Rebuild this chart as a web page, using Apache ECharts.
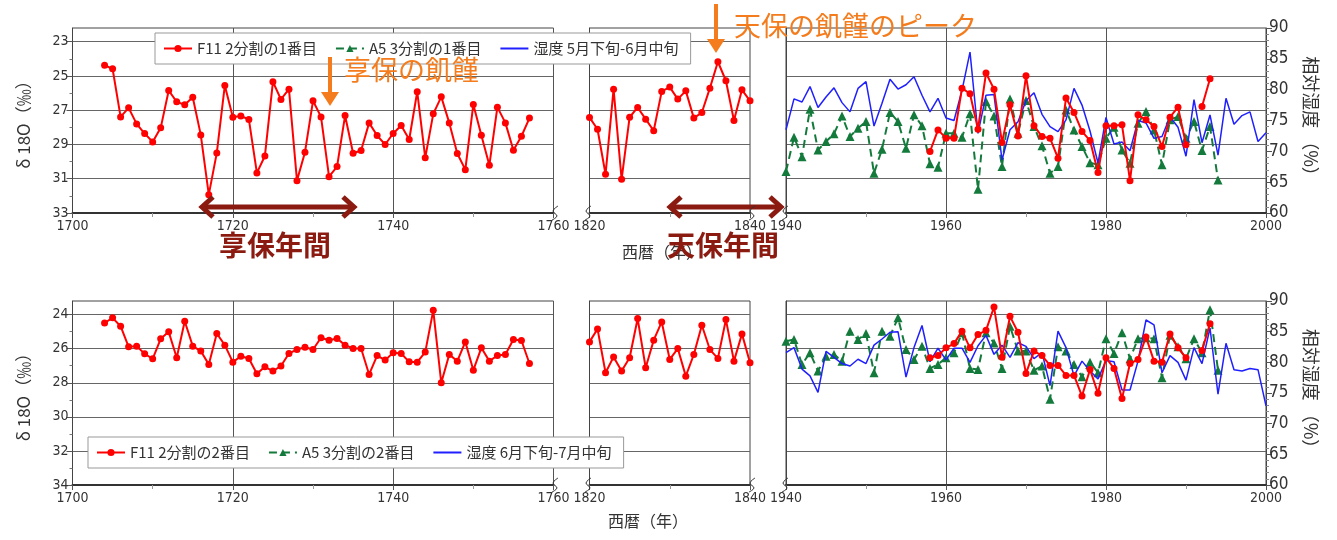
<!DOCTYPE html>
<html><head><meta charset="utf-8">
<script src="https://cdn.jsdelivr.net/npm/echarts@6/dist/echarts.min.js"></script>
<style>html,body{margin:0;padding:0;background:#fff}#c{width:1337px;height:540px}</style>
</head><body><div id="c"></div>
<script>
// ---------------- data ----------------
const yearsEarly = [1704,1705,1706,1707,1708,1709,1710,1711,1712,1713,1714,1715,1716,1717,1718,1719,1720,1721,1722,1723,1724,1725,1726,1727,1728,1729,1730,1731,1732,1733,1734,1735,1736,1737,1738,1739,1740,1741,1742,1743,1744,1745,1746,1747,1748,1749,1750,1751,1752,1753,1754,1755,1756,1757];
const yearsMid = [1820,1821,1822,1823,1824,1825,1826,1827,1828,1829,1830,1831,1832,1833,1834,1835,1836,1837,1838,1839,1840];
const yearsModern = [1940,1941,1942,1943,1944,1945,1946,1947,1948,1949,1950,1951,1952,1953,1954,1955,1956,1957,1958,1959,1960,1961,1962,1963,1964,1965,1966,1967,1968,1969,1970,1971,1972,1973,1974,1975,1976,1977,1978,1979,1980,1981,1982,1983,1984,1985,1986,1987,1988,1989,1990,1991,1992,1993,1994,1995,1996,1997,1998,1999,2000];
const yearsF11Modern = [1958,1959,1960,1961,1962,1963,1964,1965,1966,1967,1968,1969,1970,1971,1972,1973,1974,1975,1976,1977,1978,1979,1980,1981,1982,1983,1984,1985,1986,1987,1988,1989,1990,1991,1992,1993];
const yearsA5 = [1940,1941,1942,1943,1944,1945,1946,1947,1948,1949,1950,1951,1952,1953,1954,1955,1956,1957,1958,1959,1960,1961,1962,1963,1964,1965,1966,1967,1968,1969,1970,1971,1972,1973,1974,1975,1976,1977,1978,1979,1980,1981,1982,1983,1984,1985,1986,1987,1988,1989,1990,1991,1992,1993,1994];

// top panel: F11 first half, A5 first third, humidity late May - mid June
const f11FirstEarly = [24.38,24.58,27.39,26.86,27.80,28.36,28.85,28.03,25.85,26.51,26.68,26.24,28.44,31.93,29.49,25.55,27.41,27.33,27.54,30.66,29.67,25.34,26.37,25.77,31.11,29.45,26.45,27.39,30.88,30.29,27.31,29.51,29.35,27.74,28.48,29.00,28.36,27.89,28.71,25.92,29.78,27.21,26.22,27.74,29.53,30.47,26.66,28.46,30.21,26.82,27.74,29.34,28.52,27.46];
const f11FirstMid = [27.42,28.11,30.74,25.77,31.03,27.41,26.84,27.52,28.20,25.90,25.65,26.35,25.87,27.46,27.13,25.71,24.17,25.28,27.60,25.81,26.45];
const f11FirstModern = [29.41,28.15,28.63,28.63,25.71,26.04,28.11,24.83,25.77,28.89,26.68,28.50,24.99,27.91,28.54,28.63,29.80,26.29,27.13,28.24,28.77,30.64,27.91,27.91,27.85,31.11,27.27,27.56,27.95,29.12,27.41,26.82,29.02,null,26.78,25.16];
const a5First = [30.58,28.58,29.71,26.94,29.32,28.83,28.38,27.33,28.54,28.05,27.66,30.68,29.28,27.13,27.66,29.22,27.27,27.91,30.13,30.33,28.34,28.34,28.58,27.21,31.62,26.49,27.33,30.29,26.35,28.34,26.43,27.95,29.08,30.68,30.29,26.98,28.15,29.12,30.06,30.19,28.63,27.99,29.32,30.10,27.76,27.07,28.15,30.19,27.56,27.37,28.63,27.66,29.35,27.95,31.07];
const humMayJun = [73.5,78.5,78.0,80.5,77.1,78.8,80.3,77.9,76.4,80.2,81.3,74.1,77.8,81.7,80.1,80.8,82.1,79.1,76.4,78.6,75.4,75.0,79.9,86.1,72.9,79.1,79.2,68.6,73.5,74.8,78.2,79.5,76.0,74.0,73.2,75.1,80.2,77.5,73.3,68.1,75.5,71.2,71.5,70.1,75.0,74.6,72.1,72.4,75.6,73.9,69.2,78.4,71.4,75.9,69.4,78.6,74.4,75.8,76.4,71.6,73.0];

// bottom panel: F11 second half, A5 second third, humidity late June - mid July
const f11SecondEarly = [24.49,24.19,24.68,25.89,25.85,26.30,26.59,25.42,25.01,26.53,24.39,25.85,26.14,26.92,25.11,25.79,26.79,26.44,26.57,27.47,27.06,27.31,27.02,26.28,26.05,25.91,26.05,25.36,25.50,25.40,25.79,25.99,25.99,27.51,26.40,26.67,26.24,26.28,26.77,26.79,26.20,23.75,28.00,26.34,26.73,25.60,27.26,25.95,26.73,26.40,26.34,25.46,25.52,26.87];
const f11SecondMid = [25.60,24.84,27.41,26.48,27.31,26.53,24.23,27.12,25.50,24.43,26.63,25.99,27.61,26.34,24.62,26.05,26.57,24.29,26.73,25.13,26.83];
const f11SecondModern = [26.53,26.40,25.95,25.70,24.97,25.95,25.17,24.92,23.55,26.50,24.10,25.03,27.45,26.14,26.40,26.98,26.98,27.57,27.57,28.78,27.22,28.62,26.53,27.16,28.93,26.87,26.63,25.31,26.73,26.79,25.13,25.95,26.53,null,26.11,24.53];
const a5Second = [25.56,25.46,26.92,26.24,27.31,26.44,26.34,26.73,24.97,25.46,25.11,27.41,24.97,25.27,24.19,26.05,26.63,25.85,27.16,26.92,26.53,26.24,25.07,27.16,27.22,25.07,25.66,27.16,24.68,26.14,26.14,27.27,27.02,28.97,25.89,26.14,26.92,27.65,26.79,27.41,25.42,26.28,25.07,26.59,25.42,25.36,25.42,27.70,25.21,25.89,26.59,25.42,26.24,23.71,27.26];
const humJunJul = [81.6,82.4,78.9,77.8,75.1,81.8,80.8,79.8,79.4,80.5,79.8,82.8,83.8,84.9,85.0,77.6,82.4,86.0,80.1,82.3,80.4,82.3,82.3,80.0,82.7,84.4,81.3,82.8,80.8,83.2,82.6,80.6,81.6,76.2,85.1,82.4,77.8,80.2,78.6,77.3,80.3,80.1,75.5,75.5,80.2,86.9,86.1,78.3,81.1,80.0,77.1,82.4,79.8,85.6,74.8,83.1,78.8,78.6,79.0,78.8,72.9];

const topLeftTicks = [23,25,27,29,31,33];
const topLeftMinor = [24,26,28,30,32];
const botLeftTicks = [24,26,28,30,32,34];
const botLeftMinor = [25,27,29,31,33];

const NAMES_TOP = ['F11 2分割の1番目','A5 3分割の1番目','湿度 5月下旬-6月中旬'];
const NAMES_BOT = ['F11 2分割の2番目','A5 3分割の2番目','湿度 6月下旬-7月中旬'];

// ---------------- styling ----------------
const RED = '#ff0000', GREEN = '#137a3c', BLUE = '#1f1fff';
const ORANGE = '#f47c1c', DARKRED = '#8b1a10';
const NUMFONT = "'Liberation Sans Narrow','DejaVu Sans Condensed','Liberation Sans',sans-serif";
const JPFONT = "'Noto Sans CJK JP','Noto Sans',sans-serif";
const zip = (xs, ys) => xs.map((x, i) => [x, ys[i]]);

const TOP = 28, TOPH = 185, BOT = 301, BOTH = 184;
const cols = [{left: 72.5, width: 481, min: 1700, max: 1760, split: true},
              {left: 589.5, width: 160.5, min: 1820, max: 1840, split: false},
              {left: 786, width: 480, min: 1940, max: 2000, split: true}];

const grids = [], xAxes = [];
[[TOP, TOPH], [BOT, BOTH]].forEach(([t, h]) => {
  cols.forEach(c => {
    grids.push({left: c.left, top: t, width: c.width, height: h, show: true, borderColor: '#444', borderWidth: 1, containLabel: false});
    xAxes.push({
      type: 'value', gridIndex: grids.length - 1, min: c.min, max: c.max, interval: 20,
      axisLine: {show: true, onZero: false, lineStyle: {color: '#333', width: 2}},
      axisTick: {show: true, length: 5, lineStyle: {color: '#555'}},
      minorTick: {show: true, splitNumber: 2, length: 4, lineStyle: {color: '#999'}},
      splitLine: {show: c.split, lineStyle: {color: '#555', width: 1}},
      axisLabel: {color: '#333', fontSize: 14, fontFamily: NUMFONT, margin: 6, showMinLabel: true, showMaxLabel: true,
        formatter: v => String(v)}
    });
  });
});

function leftAxis(grid, min, max, ticks, labels, nameText) {
  return {
    type: 'value', gridIndex: grid, inverse: true, min: min, max: max, position: 'left',
    axisLine: {show: true, lineStyle: {color: '#444', width: 1}},
    axisTick: {show: labels, length: 6, customValues: ticks, lineStyle: {color: '#555'}},
    axisLabel: {show: labels, customValues: ticks, color: '#333', fontSize: 14, fontFamily: NUMFONT, margin: 4},
    splitLine: {show: true, lineStyle: {color: '#666', width: 1}},
    name: nameText || '', nameLocation: 'middle', nameGap: 40, nameRotate: 90,
    nameTextStyle: {fontSize: 17, color: '#333', fontFamily: JPFONT}
  };
}
function minorAxis(grid, min, max, ticks) {
  return {
    type: 'value', gridIndex: grid, inverse: true, min: min, max: max, position: 'left',
    axisLine: {show: false}, axisLabel: {show: false, customValues: ticks},
    axisTick: {show: true, length: 3, customValues: ticks, lineStyle: {color: '#777'}},
    splitLine: {show: false}
  };
}
function rightAxis(grid) {
  return {
    type: 'value', gridIndex: grid, min: 60, max: 90, interval: 5, position: 'right',
    axisLine: {show: true, lineStyle: {color: '#444', width: 1}},
    axisTick: {show: true, length: 6, lineStyle: {color: '#555'}},
    minorTick: {show: true, splitNumber: 5, length: 3, lineStyle: {color: '#888'}},
    splitLine: {show: false},
    axisLabel: {color: '#333', fontSize: 17, fontFamily: NUMFONT, margin: 3},
    name: '相対湿度 （%）', nameLocation: 'middle', nameGap: 36, nameRotate: -90,
    nameTextStyle: {fontSize: 18, color: '#333', fontFamily: JPFONT}
  };
}

const yAxes = [
  leftAxis(0, 22.2, 33, topLeftTicks, true, 'δ 18O（‰）'), // 0
  minorAxis(0, 22.2, 33, topLeftMinor),                   // 1
  leftAxis(1, 22.2, 33, topLeftTicks, false),             // 2
  leftAxis(2, 22.2, 33, topLeftTicks, false),             // 3
  rightAxis(2),                                           // 4
  leftAxis(3, 23.2, 34, botLeftTicks, true, 'δ 18O（‰）'), // 5
  minorAxis(3, 23.2, 34, botLeftMinor),                   // 6
  leftAxis(4, 23.2, 34, botLeftTicks, false),             // 7
  leftAxis(5, 23.2, 34, botLeftTicks, false),             // 8
  rightAxis(5)                                            // 9
];

function redS(name, data, xi, yi) {
  return {type: 'line', name, data, xAxisIndex: xi, yAxisIndex: yi, symbol: 'circle', symbolSize: 7,
    connectNulls: false, clip: false, z: 5, lineStyle: {color: RED, width: 2}, itemStyle: {color: RED}};
}
function greenS(name, data, xi, yi) {
  return {type: 'line', name, data, xAxisIndex: xi, yAxisIndex: yi, symbol: 'triangle', symbolSize: 9,
    clip: false, z: 3, lineStyle: {color: GREEN, width: 2, type: [8, 5]}, itemStyle: {color: GREEN}};
}
function blueS(name, data, xi, yi) {
  return {type: 'line', name, data, xAxisIndex: xi, yAxisIndex: yi, symbol: 'none',
    clip: false, z: 4, lineStyle: {color: BLUE, width: 1.5}, itemStyle: {color: BLUE}};
}

const series = [
  greenS(NAMES_TOP[1], zip(yearsA5, a5First), 2, 3),
  blueS(NAMES_TOP[2], zip(yearsModern, humMayJun), 2, 4),
  redS(NAMES_TOP[0], zip(yearsEarly, f11FirstEarly), 0, 0),
  redS(NAMES_TOP[0], zip(yearsMid, f11FirstMid), 1, 2),
  redS(NAMES_TOP[0], zip(yearsF11Modern, f11FirstModern), 2, 3),
  greenS(NAMES_BOT[1], zip(yearsA5, a5Second), 5, 8),
  blueS(NAMES_BOT[2], zip(yearsModern, humJunJul), 5, 9),
  redS(NAMES_BOT[0], zip(yearsEarly, f11SecondEarly), 3, 5),
  redS(NAMES_BOT[0], zip(yearsMid, f11SecondMid), 4, 7),
  redS(NAMES_BOT[0], zip(yearsF11Modern, f11SecondModern), 5, 8)
];

const legendBase = {
  orient: 'horizontal', backgroundColor: '#fff', borderColor: '#999', borderWidth: 1, borderRadius: 0,
  padding: [8, 12, 8, 8], itemGap: 18, itemWidth: 28, itemHeight: 9,
  textStyle: {fontSize: 15, color: '#333', fontFamily: JPFONT}, z: 10, selectedMode: false
};
const legendItems = names => names.map((n, i) => i === 2 ? {name: n, itemStyle: {opacity: 0}} : {name: n});

function squiggle(x, y) {
  return {type: 'polyline', z: 20, shape: {points: [[x - 3, y + 7], [x + 2, y + 3], [x - 2, y - 2], [x + 3, y - 7]], smooth: 0.4},
    style: {stroke: '#333', lineWidth: 1, fill: null}};
}
function downArrow(x, y0, y1) {
  return [
    {type: 'line', z: 20, shape: {x1: x, y1: y0, x2: x, y2: y1 - 12}, style: {stroke: ORANGE, lineWidth: 4}},
    {type: 'polygon', z: 20, shape: {points: [[x - 9, y1 - 14], [x + 9, y1 - 14], [x, y1]]}, style: {fill: ORANGE}}
  ];
}
function dblArrow(x0, x1, y) {
  const s = {stroke: DARKRED, lineWidth: 5, fill: null, lineJoin: 'miter'};
  return [
    {type: 'line', z: 20, shape: {x1: x0 + 3, y1: y, x2: x1 - 3, y2: y}, style: s},
    {type: 'polyline', z: 20, shape: {points: [[x0 + 13, y - 10], [x0 + 2, y], [x0 + 13, y + 10]]}, style: s},
    {type: 'polyline', z: 20, shape: {points: [[x1 - 13, y - 10], [x1 - 2, y], [x1 - 13, y + 10]]}, style: s}
  ];
}
const graphics = [
  ...downArrow(330, 57, 106),
  {type: 'text', z: 20, left: 344, top: 56, style: {text: '享保の飢饉', fill: ORANGE, font: "27px 'Noto Sans CJK JP'"}},
  ...downArrow(716, 4, 53),
  {type: 'text', z: 20, left: 734, top: 12, style: {text: '天保の飢饉のピーク', fill: ORANGE, font: "27px 'Noto Sans CJK JP'"}},
  ...dblArrow(200, 356, 207),
  ...dblArrow(668, 783, 207),
  {type: 'text', z: 19, left: 622, top: 244, style: {text: '西暦（年）', fill: '#333', font: "16px 'Noto Sans CJK JP'"}},
  {type: 'text', z: 21, left: 219, top: 231, style: {text: '享保年間', fill: DARKRED, font: "bold 28px 'Noto Sans CJK JP'"}},
  {type: 'text', z: 21, left: 667, top: 231, style: {text: '天保年間', fill: DARKRED, font: "bold 28px 'Noto Sans CJK JP'"}},
  {type: 'text', z: 20, left: 608, top: 513, style: {text: '西暦（年）', fill: '#333', font: "16px 'Noto Sans CJK JP'"}},
  squiggle(555, 213), squiggle(588, 213), squiggle(752, 213), squiggle(785, 213),
  squiggle(555, 485), squiggle(588, 485), squiggle(752, 485), squiggle(785, 485)
];

const chart = echarts.init(document.getElementById('c'), null, {renderer: 'canvas'});
chart.setOption({
  animation: false,
  backgroundColor: '#fff',
  grid: grids,
  xAxis: xAxes,
  yAxis: yAxes,
  legend: [
    Object.assign({}, legendBase, {data: legendItems(NAMES_TOP), left: 155, top: 33}),
    Object.assign({}, legendBase, {data: legendItems(NAMES_BOT), left: 88, top: 437})
  ],
  series: series,
  graphic: graphics
});
</script></body></html>
